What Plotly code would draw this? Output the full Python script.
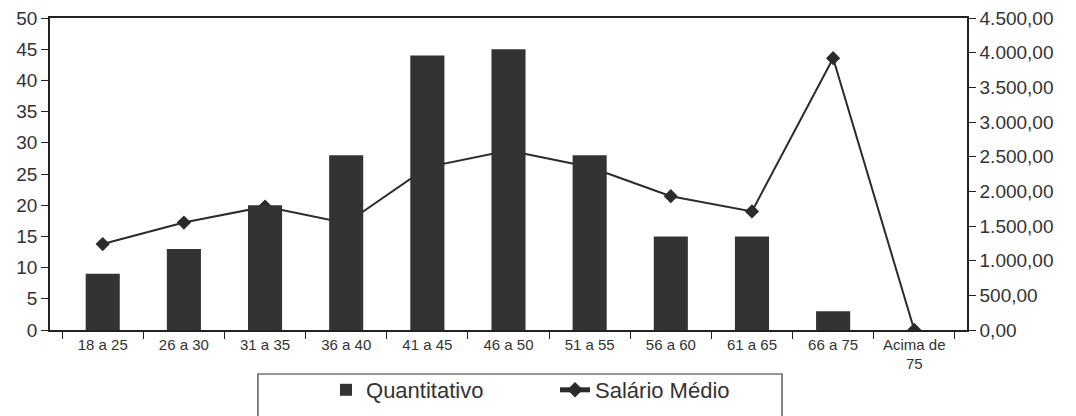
import plotly.graph_objects as go

categorias = ["18 a 25", "26 a 30", "31 a 35", "36 a 40", "41 a 45", "46 a 50",
              "51 a 55", "56 a 60", "61 a 65", "66 a 75", "Acima de<br>75"]
quantitativo = [9, 13, 20, 28, 44, 45, 28, 15, 15, 3, 0]
salario_medio = [1240, 1550, 1780, 1540, 2350, 2590, 2350, 1930, 1710, 3920, 0]
ticks_esq = list(range(0, 51, 5))
ticks_dir = list(range(0, 4501, 500))

fig = go.Figure()
fig.add_trace(go.Scatter(
    x=categorias, y=salario_medio, name="Salário Médio", yaxis="y",
    mode="lines+markers", line=dict(color="#2b2b2b", width=2),
    marker=dict(symbol="diamond", size=11, color="#2b2b2b"), legendrank=2))
fig.add_trace(go.Bar(
    x=categorias, y=quantitativo, name="Quantitativo", yaxis="y2",
    marker=dict(color="#333333", line=dict(width=0)), width=0.42, legendrank=1))

# legend frame (drawn as a shape so its size can match the reference)
fig.add_shape(type="rect", xref="paper", yref="paper",
              x0=0.2268, x1=0.7983, y0=-0.30, y1=-0.141,
              line=dict(color="#333333", width=1.2), fillcolor="rgba(0,0,0,0)")

fig.update_layout(
    width=1076, height=416,
    margin=dict(l=50, r=109, t=18, b=86, autoexpand=False),
    paper_bgcolor="white", plot_bgcolor="white",
    separators=",.",
    font=dict(family="Liberation Sans, Arial", color="#333333"),
    showlegend=True,
    legend=dict(orientation="h", x=0.301, xanchor="left", y=-0.125, yanchor="top",
                borderwidth=0, font=dict(size=22), bgcolor="rgba(0,0,0,0)",
                entrywidth=184, itemsizing="constant"),
    xaxis=dict(showline=True, linecolor="#222222", linewidth=1.5, mirror=True,
               ticks="outside", tickson="boundaries", ticklen=7, tickcolor="#222222",
               tickfont=dict(size=15), showgrid=False, automargin=False),
    yaxis=dict(side="right", range=[0, 4500], tickvals=ticks_dir, tickformat=",.2f",
               showline=True, linecolor="#222222", linewidth=1.5, ticks="outside",
               ticklen=7, tickcolor="#222222", tickfont=dict(size=19), showgrid=False,
               zeroline=False, automargin=False),
    yaxis2=dict(side="left", overlaying="y", range=[0, 50], tickvals=ticks_esq,
                showline=True, linecolor="#222222", linewidth=1.5, ticks="outside",
                ticklen=7, tickcolor="#222222", tickfont=dict(size=19), showgrid=False,
                zeroline=False, automargin=False),
)
fig.write_html("out.html", config={"displayModeBar": False},
               post_script="document.body.style.margin='0';")
